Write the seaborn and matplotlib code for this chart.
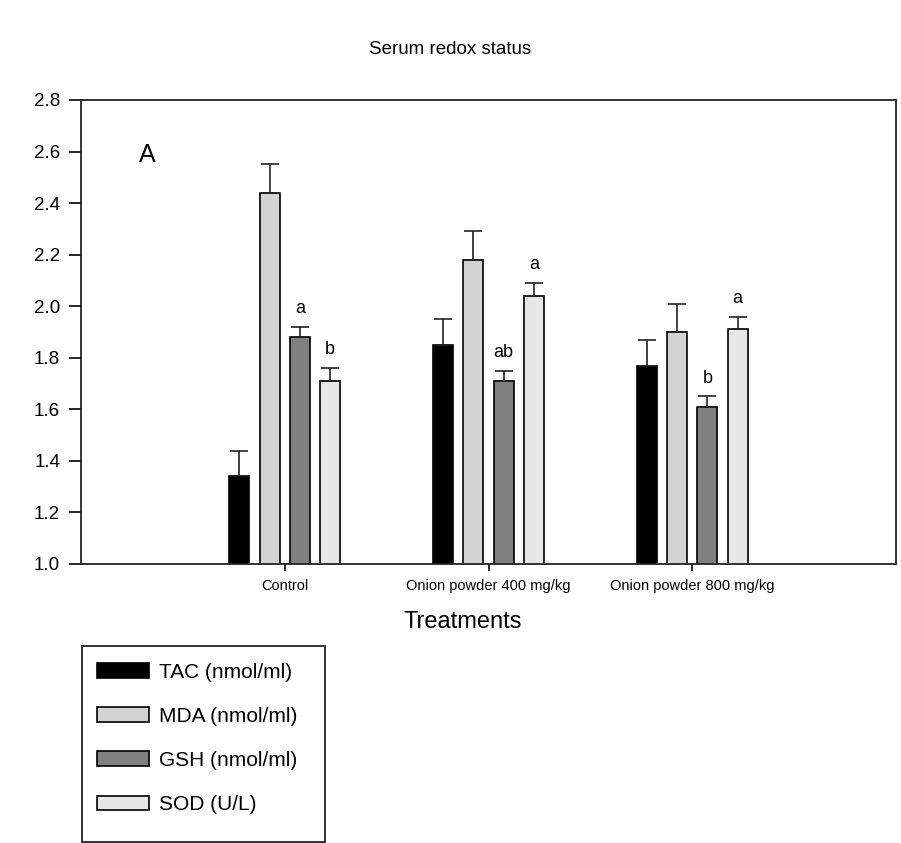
import numpy as np
import pandas as pd
import seaborn as sns
import matplotlib.pyplot as plt
from matplotlib.patches import Rectangle

# Data
treatments = ['Control', 'Onion powder 400 mg/kg', 'Onion powder 800 mg/kg']
parameters = ['TAC (nmol/ml)', 'MDA (nmol/ml)', 'GSH (nmol/ml)', 'SOD (U/L)']

tac = [1.34, 1.85, 1.77]
mda = [2.44, 2.18, 1.90]
gsh = [1.88, 1.71, 1.61]
sod = [1.71, 2.04, 1.91]

tac_err = [0.10, 0.10, 0.10]
mda_err = [0.11, 0.11, 0.11]
gsh_err = [0.04, 0.04, 0.04]
sod_err = [0.05, 0.05, 0.05]

gsh_letters = ['a', 'ab', 'b']
sod_letters = ['b', 'a', 'a']

colors = ['#000000', '#d3d3d3', '#808080', '#e6e7e6']

values = [tac, mda, gsh, sod]
errors = [tac_err, mda_err, gsh_err, sod_err]
letters = [None, None, gsh_letters, sod_letters]

rows = []
for p, vals in zip(parameters, values):
    for t, v in zip(treatments, vals):
        rows.append({'Treatment': t, 'Parameter': p, 'value': v})
df = pd.DataFrame(rows)

sns.set_style('ticks')
plt.rcParams['font.family'] = ['Liberation Sans', 'DejaVu Sans']
plt.rcParams['text.color'] = 'black'
plt.rcParams['axes.labelcolor'] = 'black'
plt.rcParams['xtick.color'] = 'black'
plt.rcParams['ytick.color'] = 'black'

fig = plt.figure(figsize=(9.01, 8.43), dpi=100)
W, H = 901, 843
ax = fig.add_axes([81 / W, 1 - 564 / H, (896 - 81) / W, (564 - 100) / H])

sns.barplot(data=df, x='Treatment', y='value', hue='Parameter',
            order=treatments, hue_order=parameters,
            palette=dict(zip(parameters, colors)),
            width=0.595, gap=0.34, edgecolor='black', linewidth=1.2,
            errorbar=None, ax=ax)

handles, labels = ax.get_legend_handles_labels()
ax.get_legend().remove()

# error bars (upper only) and significance letters
for cont, err, let in zip(ax.containers, errors, letters):
    for i, patch in enumerate(cont.patches):
        x = patch.get_x() + patch.get_width() / 2
        y = patch.get_height()
        ax.errorbar(x, y, yerr=[[0], [err[i]]], fmt='none', ecolor='#222222',
                    elinewidth=1.2, capsize=6.5, capthick=1.2, zorder=1)
        if let is not None:
            ax.annotate(let[i], (x, y + err[i]), xytext=(0, 7),
                        textcoords='offset points', ha='center', va='bottom',
                        fontsize=13)

ax.set_xlim(-1, 3)
ax.set_ylim(1.0, 2.8)
ax.set_yticks(np.arange(1.0, 2.81, 0.2))
ax.set_yticklabels([f'{v:.1f}' for v in np.arange(1.0, 2.81, 0.2)])
for s in ax.spines.values():
    s.set_visible(True)
    s.set_linewidth(1.3)
    s.set_color('#222222')
ax.tick_params(axis='y', direction='out', length=9, width=1.2, labelsize=13.5, pad=6)
ax.tick_params(axis='x', direction='out', length=5, width=1.2, labelsize=10.5, pad=6)
ax.set_xlabel('Treatments', fontsize=17)
ax.xaxis.set_label_coords((463 - 81) / 815, -(622 - 564) / 464)
ax.xaxis.label.set_va('center')
ax.set_ylabel('')

ax.text(-0.676, 2.587, 'A', fontsize=18, ha='center', va='center')

fig.suptitle('Serum redox status', fontsize=13.5, y=1 - 50 / H, va='center', x=0.5)

# legend
leg = fig.legend(handles, labels, loc='upper left',
                 bbox_to_anchor=(80 / W, 1 - 646 / H), frameon=False,
                 fontsize=15, handlelength=2.5, handleheight=0.72,
                 handletextpad=0.48, labelspacing=1.21, borderpad=0.3)
for h in leg.legend_handles:
    h.set_edgecolor('black')
    h.set_linewidth(1.2)
fig.patches.append(Rectangle((82 / W, 1 - 842 / H), (325 - 82) / W, (842 - 646) / H,
                             transform=fig.transFigure, fill=False,
                             edgecolor='#222222', linewidth=1.3))

fig.savefig('out.png', dpi=100)
